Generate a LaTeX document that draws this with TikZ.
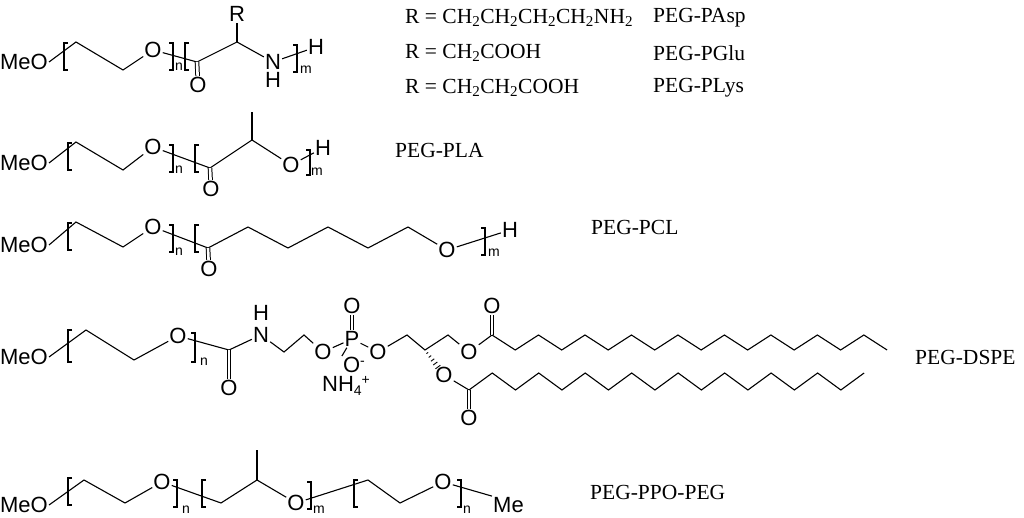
\documentclass[tikz,border=0pt]{standalone}
\usepackage{fontspec}
\usetikzlibrary{calc}
\newfontfamily\arialf{Liberation Sans}
\newfontfamily\timesf{Liberation Serif}
\newcommand\lbrk[3]{\draw[bond] (#1+4,#2)--(#1,#2)--(#1,#3)--(#1+4,#3);}
\newcommand\rbrk[3]{\draw[bond] (#1-4,#2)--(#1,#2)--(#1,#3)--(#1-4,#3);}
\begin{document}
\begin{tikzpicture}[x=1pt,y=-1pt,
  bond/.style={line width=1.1pt,line join=miter},
  dbl/.style={line width=1pt,double,double distance=2.6pt},
  atom/.style={font=\fontsize{22}{22}\arialf,inner sep=1pt},
  sub/.style={font=\fontsize{14}{14}\arialf,inner sep=0pt},
  lab/.style={font=\fontsize{21.5}{21.5}\timesf,inner sep=0pt,anchor=west}]
\useasboundingbox (0,0) rectangle (1024,518);
% ---------- Row 1
\node[atom,anchor=east] (meo1) at (49,62) {MeO};
\coordinate (r1a) at (76,42); \coordinate (r1b) at (123,70);
\node[atom] (o1) at (153,50) {O};
\coordinate (c1) at (197,62);
\node[atom] (oc1) at (198,85) {O};
\coordinate (ch1) at (237,42);
\node[atom] (rr) at (237,14) {R};
\node[atom] (n1) at (273,62) {N};
\node[atom] (nh1) at (273,80) {H};
\node[atom] (h1) at (316,47) {H};
\draw[bond] (meo1.east) -- (r1a) -- (r1b) -- (o1) -- (c1) -- (ch1) -- (n1) -- (h1);
\draw[bond] (ch1) -- (rr);
\draw[dbl] (c1) -- (oc1);
\lbrk{64}{43}{70} \rbrk{173}{43}{70} \lbrk{185}{43}{70} \rbrk{297}{45}{72}
\node[sub] (n1s) at (179,67) {n};
\node[sub] (m1s) at (306,70) {m};
% ---------- Row 2
\node[atom,anchor=east] (meo2) at (49,163) {MeO};
\coordinate (r2a) at (76,142); \coordinate (r2b) at (123,170);
\node[atom] (o2) at (153,147) {O};
\coordinate (c2) at (210,168);
\node[atom] (oc2) at (211,189) {O};
\coordinate (ch2) at (252,140); \coordinate (me2) at (252,112);
\node[atom] (o2b) at (291,165) {O};
\node[atom] (h2) at (323,148) {H};
\draw[bond] (meo2.east) -- (r2a) -- (r2b) -- (o2) -- (c2) -- (ch2) -- (o2b) -- (h2);
\draw[bond] (ch2) -- (me2);
\draw[dbl] (c2) -- (oc2);
\lbrk{68}{143}{170} \rbrk{173}{145}{172} \lbrk{195}{145}{172} \rbrk{310}{150}{175}
\node[sub] (n2s) at (179,170) {n};
\node[sub] (m2s) at (317,172) {m};
\node[lab] (l2) at (395,150) {PEG-PLA};
% ---------- Row 3
\node[atom,anchor=east] (meo3) at (49,245) {MeO};
\coordinate (r3a) at (76,222); \coordinate (r3b) at (123,247);
\node[atom] (o3) at (153,227) {O};
\coordinate (c3) at (208,248);
\node[atom] (oc3) at (209,269) {O};
\coordinate (z1) at (248,227); \coordinate (z2) at (288,248);
\coordinate (z3) at (328,227); \coordinate (z4) at (368,248);
\coordinate (z5) at (408,227);
\node[atom] (o3b) at (447,250) {O};
\node[atom] (h3) at (510,230) {H};
\draw[bond] (meo3.east) -- (r3a) -- (r3b) -- (o3) -- (c3) -- (z1) -- (z2) -- (z3) -- (z4) -- (z5) -- (o3b) -- (h3);
\draw[dbl] (c3) -- (oc3);
\lbrk{68}{223}{250} \rbrk{173}{225}{252} \lbrk{195}{225}{252} \rbrk{485}{228}{255}
\node[sub] (n3s) at (179,252) {n};
\node[sub] (m3s) at (494,253) {m};
\node[lab] (l3) at (591,227) {PEG-PCL};
% ---------- Row 4 (DSPE)
\node[atom,anchor=east] (meo4) at (49,357) {MeO};
\coordinate (r4a) at (86,330); \coordinate (r4b) at (134,360);
\node[atom] (o4) at (178,336) {O};
\coordinate (c4) at (229,350);
\node[atom] (oc4) at (229,388) {O};
\node[atom] (n4) at (261,335) {N};
\node[atom] (nh4) at (261,313) {H};
\coordinate (e1) at (284,352); \coordinate (e2) at (304,335);
\node[atom] (o4a) at (323,352) {O};
\node[atom] (p4) at (352,339) {P};
\node[atom] (o4t) at (352,306) {O};
\node[atom] (o4m) at (354,365) {O\raisebox{7pt}{\fontsize{14}{14}\selectfont -}};
\node[atom] (nh4p) at (346,386) {NH\raisebox{-4pt}{\fontsize{14}{14}\selectfont 4}\raisebox{7pt}{\fontsize{14}{14}\selectfont +}};
\node[atom] (o4b) at (378,352) {O};
\coordinate (g1) at (407,335); \coordinate (g2) at (425,350); \coordinate (g3) at (448,335);
\node[atom] (o4c) at (469,352) {O};
\coordinate (t0) at (492,335);
\node[atom] (ot) at (492,306) {O};
\node[atom] (o4d) at (444,375) {O};
\coordinate (b0) at (469,390);
\node[atom] (ob) at (469,418) {O};
\draw[bond] (meo4.east) -- (r4a) -- (r4b) -- (o4) -- (c4) -- (n4) -- (e1) -- (e2) -- (o4a) -- (p4) -- (o4b) -- (g1) -- (g2) -- (g3) -- (o4c) -- (t0);
\draw[bond] (p4) -- (o4m.north west);
\draw[dbl] (c4) -- (oc4);
\draw[dbl] (p4) -- (o4t);
\draw[dbl] (t0) -- (ot);
\draw[bond] (o4d) -- (b0);
\draw[dbl] (b0) -- (ob);
\draw[bond] (t0) \foreach \i in {1,...,17}{ -- ({492+23.24*\i},{335+15*mod(\i,2)}) };
\draw[bond] (b0) \foreach \i in {1,...,17}{ -- ({469+23.24*\i},{390-17*mod(\i,2)}) };
\foreach \t in {0.12,0.26,0.40,0.54,0.68}{
  \draw[line width=0.9pt] ($(g2)!\t!(o4d)+({0.8*(0.6+3.6*\t)},{-0.6*(0.6+3.6*\t)})$) -- ($(g2)!\t!(o4d)-({0.8*(0.6+3.6*\t)},{-0.6*(0.6+3.6*\t)})$);}
\lbrk{68}{330}{362} \rbrk{195}{333}{362}
\node[sub] (n4s) at (204,362) {n};
\node[lab] (l4) at (915,357) {PEG-DSPE};
% ---------- Row 5
\node[atom,anchor=east] (meo5) at (49,505) {MeO};
\coordinate (r5a) at (84,480); \coordinate (r5b) at (125,503);
\node[atom] (o5) at (162,482) {O};
\coordinate (p5a) at (221,503); \coordinate (p5b) at (257,480); \coordinate (p5m) at (257,450);
\node[atom] (o5b) at (296,503) {O};
\coordinate (q5a) at (368,480); \coordinate (q5b) at (400,503);
\node[atom] (o5c) at (443,482) {O};
\node[atom,anchor=west] (me5) at (492,505) {Me};
\draw[bond] (meo5.east) -- (r5a) -- (r5b) -- (o5) -- (p5a) -- (p5b) -- (o5b) -- (q5a) -- (q5b) -- (o5c) -- (me5.north west);
\draw[bond] (p5b) -- (p5m);
\lbrk{68}{478}{505} \rbrk{177}{480}{507} \lbrk{202}{480}{507} \rbrk{311}{482}{509} \lbrk{354}{480}{507} \rbrk{461}{480}{507}
\node[sub] (n5s) at (186,510) {n};
\node[sub] (m5s) at (319,510) {m};
\node[sub] (n5t) at (467,510) {n};
\node[lab] (l5) at (590,492) {PEG-PPO-PEG};
% ---------- texts
\node[lab] (t1) at (405,18) {R = CH\textsubscript{2}CH\textsubscript{2}CH\textsubscript{2}CH\textsubscript{2}NH\textsubscript{2}};
\node[lab] (t2) at (405,53) {R = CH\textsubscript{2}COOH};
\node[lab] (t3) at (405,88) {R = CH\textsubscript{2}CH\textsubscript{2}COOH};
\node[lab] (u1) at (653,18) {PEG-PAsp};
\node[lab] (u2) at (653,53) {PEG-PGlu};
\node[lab] (u3) at (653,88) {PEG-PLys};
\end{tikzpicture}
\end{document}
